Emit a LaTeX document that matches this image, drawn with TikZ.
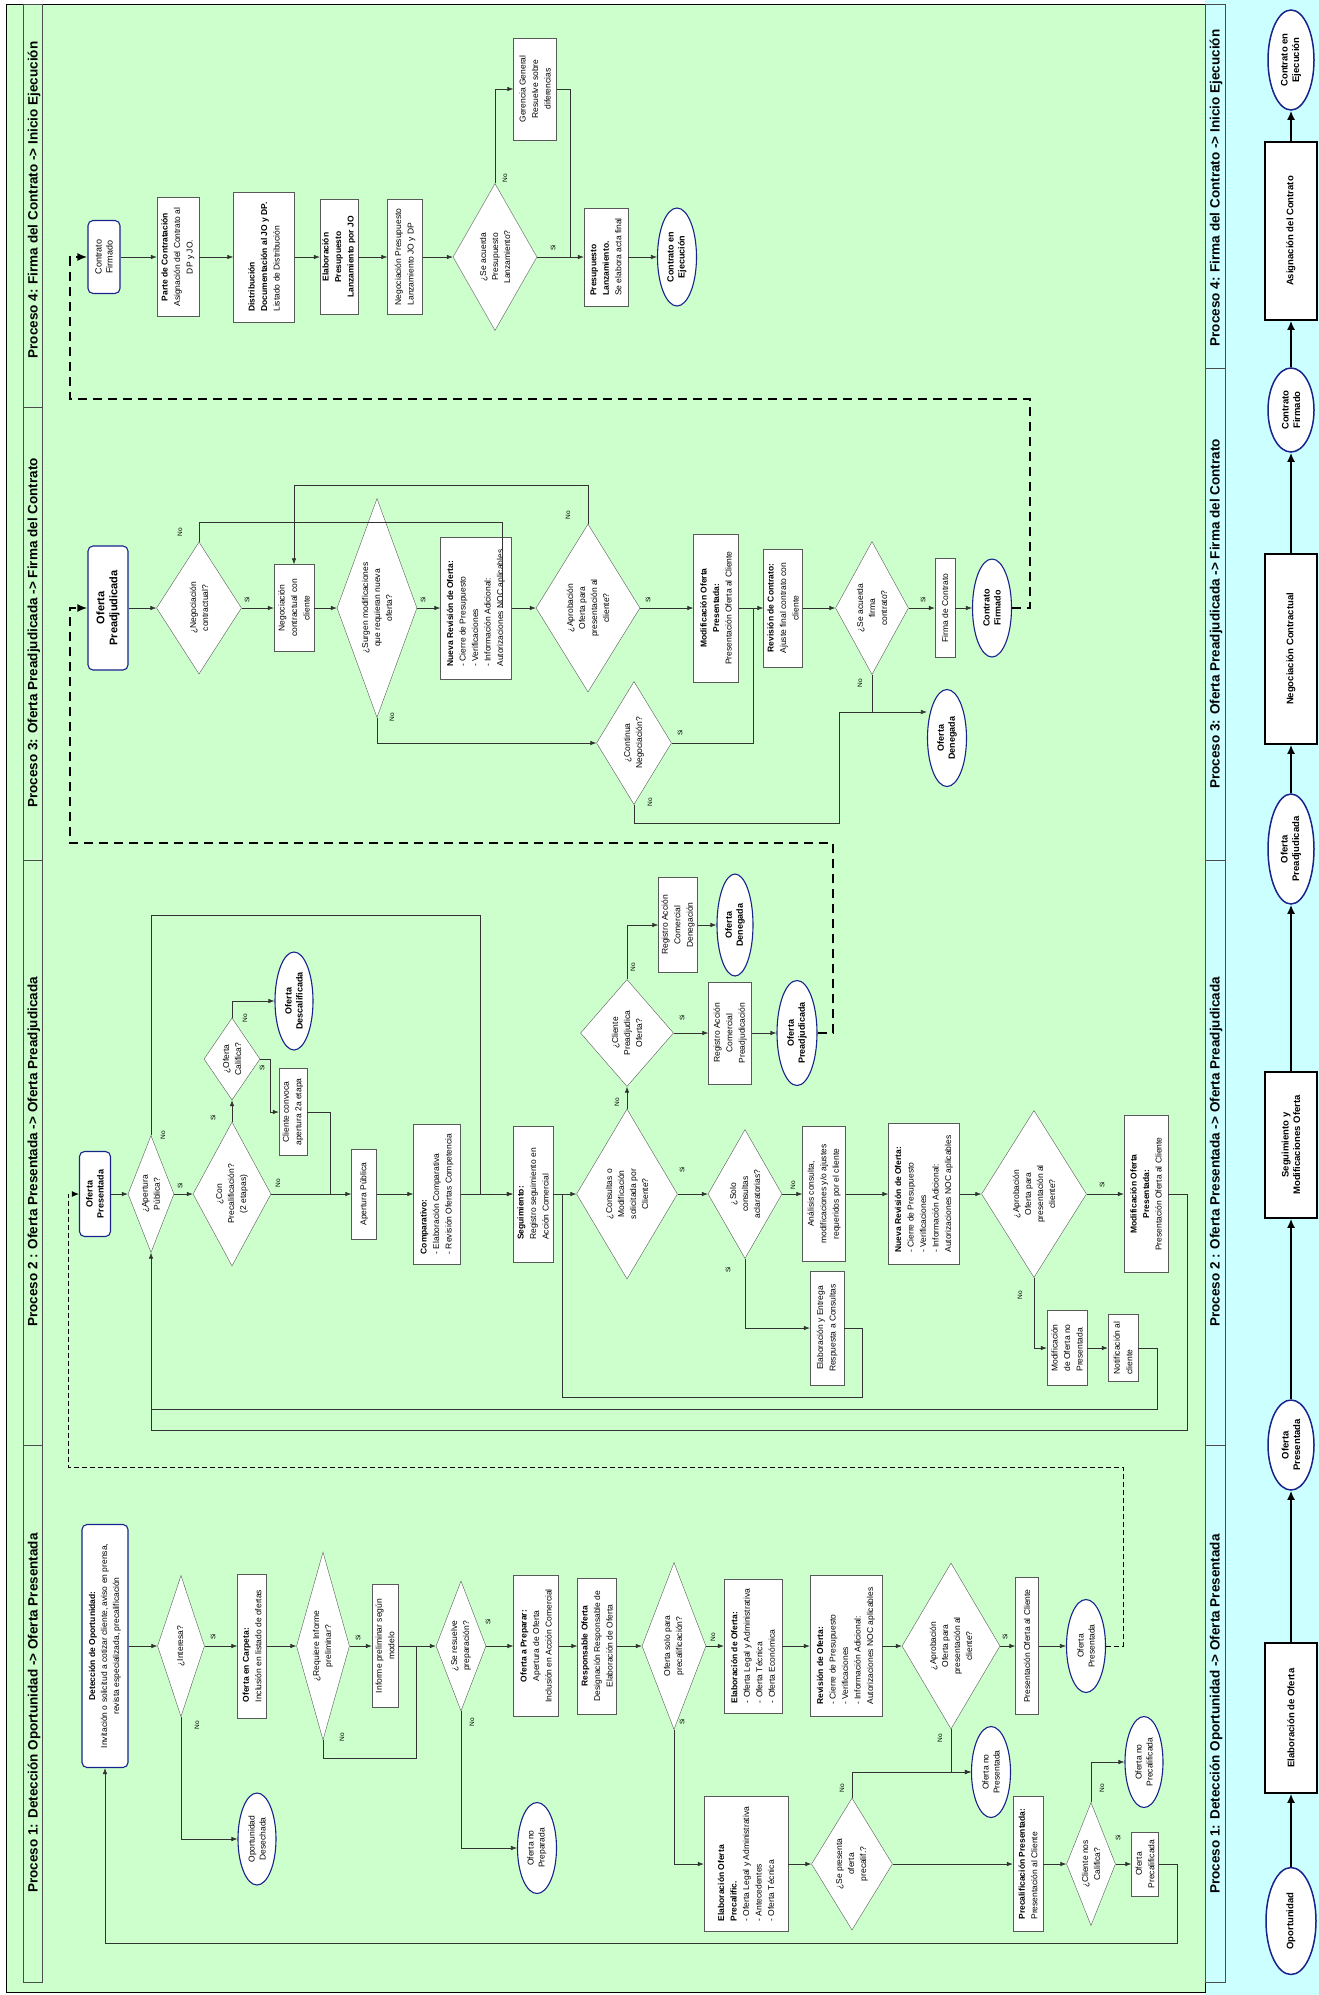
\documentclass[tikz,border=0pt]{standalone}
\usepackage{fontspec}
\setmainfont{Liberation Sans}
\usetikzlibrary{arrows.meta, shapes.geometric}
\definecolor{fondo}{RGB}{204,255,204}
\definecolor{banda}{RGB}{204,255,255}
\definecolor{azul}{RGB}{25,35,140}
\tikzset{
  tam/.style 2 args={minimum width=#1pt, minimum height=#2pt},
  dtam/.style n args={3}{minimum width=#1pt, minimum height=#2pt, aspect=#3}
}

\begin{document}
\begin{tikzpicture}[x=1pt, y=-1pt,
    caja/.style={rectangle, draw=black!65, fill=white, rotate=90, inner sep=2pt,
                 font=\fontsize{8.5}{12.5}\selectfont, align=center},
    izq/.style={align=left},
    dec/.style={diamond, draw=black!65, fill=white, rotate=90, inner sep=0pt,
                font=\fontsize{8.5}{12}\selectfont, align=center},
    ini/.style={rectangle, rounded corners=5pt, draw=azul, line width=1.1pt, fill=white,
                rotate=90, font=\fontsize{9}{11}\selectfont\bfseries, align=center},
    fin/.style={ellipse, draw=azul, line width=1.1pt, fill=white, rotate=90, inner sep=0pt,
                font=\fontsize{8.5}{11}\selectfont, align=center},
    neg/.style={font=\fontsize{9}{11}\selectfont\bfseries},
    lab/.style={rotate=90, font=\fontsize{6.5}{7}\selectfont, inner sep=0pt},
    tit/.style={rotate=90, font=\fontsize{13.5}{15}\selectfont\bfseries, inner sep=0pt},
    lin/.style={draw=black!80, line width=0.6pt},
    arr/.style={lin, -{Latex[length=6pt, width=4.5pt]}},
    trg/.style={draw=black, line width=2pt, dash pattern=on 9pt off 6pt,
                -{Latex[length=10pt, width=8pt]}},
    trf/.style={draw=black, line width=1pt, dash pattern=on 5pt off 3pt,
                -{Latex[length=7pt, width=6pt]}},
    bcaja/.style={rectangle, draw=black, line width=1.5pt, fill=white, rotate=90,
                  font=\fontsize{9.5}{11.5}\selectfont\bfseries, align=center},
    bfin/.style={ellipse, draw=azul, line width=1.5pt, fill=white, rotate=90, inner sep=0pt,
                 font=\fontsize{9.5}{11.5}\selectfont\bfseries, align=center},
    barr/.style={draw=black, line width=1.8pt, -{Latex[length=9pt, width=8pt]}}]

  \useasboundingbox (0,0) rectangle (1319,1995);
  % fondo y columnas de titulos
  \fill[banda] (1205,0) rectangle (1319,1995);
  \draw[fill=fondo, line width=1pt] (6,4) rectangle (1205,1992);
  \draw[fill=fondo, draw=black!70] (23,4) rectangle (42,1982);
  \foreach \y in {407,860,1445} \draw[black!70] (23,\y) -- (42,\y);
  \draw[fill=banda, draw=black!70] (1205,4) rectangle (1225,1982);
  \foreach \y in {368,860,1445} \draw[black!70] (1205,\y) -- (1225,\y);

  \node[tit] (t4) at (34,200) {Proceso 4: Firma del Contrato -> Inicio Ejecución};
  \node[tit] (t3) at (34,633) {Proceso 3: Oferta Preadjudicada -> Firma del Contrato};
  \node[tit] (t2) at (34,1152) {Proceso 2 : Oferta Presentada -> Oferta Preadjudicada};
  \node[tit] (t1) at (34,1713) {Proceso 1: Detección Oportunidad -> Oferta Presentada};
  \node[tit] (u4) at (1216,188) {Proceso 4: Firma del Contrato -> Inicio Ejecución};
  \node[tit] (u3) at (1216,614) {Proceso 3: Oferta Preadjudicada -> Firma del Contrato};
  \node[tit] (u2) at (1216,1152) {Proceso 2 : Oferta Presentada -> Oferta Preadjudicada};
  \node[tit] (u1) at (1216,1714) {Proceso 1: Detección Oportunidad -> Oferta Presentada};

  % resumen
  \node[bfin, tam={107}{50}] (b1) at (1291,1921) {Oportunidad};
  \node[bcaja, tam={150}{52}] (b2) at (1291,1718) {Elaboración de Oferta};
  \node[bfin, tam={90}{46}] (b3) at (1291,1445) {Oferta\\Presentada};
  \node[bcaja, tam={146}{52}] (b4) at (1291,1145) {Seguimiento y\\Modificaciones Oferta};
  \node[bfin, tam={110}{46}] (b5) at (1291,849) {Oferta\\Preadjudicada};
  \node[bcaja, tam={190}{52}] (b6) at (1291,649) {Negociación Contractual};
  \node[bfin, tam={84}{46}] (b7) at (1291,410) {Contrato\\Firmado};
  \node[bcaja, tam={178}{52}] (b8) at (1291,231) {Asignación del Contrato};
  \node[bfin, tam={100}{46}] (b9) at (1291,60) {Contrato en\\Ejecución};
  \foreach \a/\b in {b1/b2,b2/b3,b3/b4,b4/b5,b5/b6,b6/b7,b7/b8,b8/b9}
    \draw[barr] (\a) -- (\b);

  % Proceso 4
  \node[ini, tam={73}{32}, font=\fontsize{9}{11}\selectfont] (cf4) at (104,257) {Contrato\\Firmado};
  \node[caja, tam={119}{42}] (pc) at (178,257) {\textbf{Parte de Contratación}\\Asignación del Contrato al\\DP y JO.};
  \node[caja, izq, tam={130}{61}] (dist) at (264,257) {\textbf{Distribución}\\\textbf{Documentación al JO y DP.}\\Listado de Distribución};
  \node[caja, tam={115}{38}, font=\fontsize{8.5}{12.5}\selectfont\bfseries] (epl) at (339,257) {Elaboración\\Presupuesto\\Lanzamiento por JO};
  \node[caja, izq, tam={115}{35}] (npl) at (405,257) {Negociación Presupuesto\\Lanzamiento JO y DP};
  \node[dec, dtam={147}{84}{1.75}] (dpl) at (495,257) {¿Se acuerda\\Presupuesto\\Lanzamiento?};
  \node[caja, tam={102}{43}] (ger) at (535,89) {Gerencia General\\Resuelve sobre\\diferencias};
  \node[caja, izq, tam={98}{44}] (pl) at (606,257) {\textbf{Presupuesto}\\\textbf{Lanzamiento.}\\Se elabora acta final};
  \node[fin, neg, tam={98}{39}] (ce) at (677,257) {Contrato en\\Ejecución};

  % Proceso 3
  \node[ini, tam={124}{40}, font=\fontsize{11}{13}\selectfont\bfseries] (opa3) at (108,608) {Oferta\\Preadjudicada};
  \node[dec, dtam={132}{85}{1.55}] (dnc) at (199,608) {¿Negociación\\contractual?};
  \node[caja, tam={87}{40}] (ncc) at (294,608) {Negociación\\contractual con\\cliente};
  \node[dec, dtam={219}{80}{2.7}] (dsm) at (377,608) {¿Surgen modificaciones\\que requieran nueva\\oferta?};
  \node[caja, izq, tam={142}{71}] (nro3) at (476,608) {\textbf{Nueva Revisión de Oferta:}\\- Cierre de Presupuesto\\- Verificaciones\\- Información Adicional:\\Autorizaciones NOC aplicables};
  \node[dec, dtam={168}{104}{1.6}] (dap3) at (588,608) {¿Aprobación\\Oferta para\\presentación al\\cliente?};
  \node[caja, tam={148}{45}] (mop3) at (716,608) {\textbf{Modificación Oferta}\\\textbf{Presentada:}\\Presentación Oferta al Cliente};
  \node[caja, tam={118}{39}] (rc) at (783,608) {\textbf{Revisión de Contrato:}\\Ajuste final contrato con\\cliente};
  \node[dec, dtam={133}{73}{1.8}] (dfc) at (872,608) {¿Se acuerda\\firma\\contrato?};
  \node[caja, tam={99}{20}] (fc) at (945,608) {Firma de Contrato};
  \node[fin, neg, tam={98}{39}] (cf3) at (992,608) {Contrato\\Firmado};
  \node[dec, dtam={123}{75}{1.64}] (dcn) at (634,743) {¿Continua\\Negociación?};
  \node[fin, neg, tam={97}{39}] (od3) at (947,738) {Oferta\\Denegada};
  \coordinate (j3) at (839,712);

  % Proceso 2
  \node[ini, tam={85}{31}] (op2) at (95,1194) {Oferta\\Presentada};
  \node[dec, dtam={117}{46}{2.5}] (dapu) at (151,1194) {¿Apertura\\Pública?};
  \node[dec, dtam={144}{78}{1.85}] (dcp) at (232,1194) {¿Con\\Precalificación?\\(2 etapas)};
  \node[dec, dtam={82}{56}{1.46}] (doc) at (232,1059) {¿Oferta\\Califica?};
  \node[fin, neg, tam={98}{38}] (odes) at (294,1001) {Oferta\\Descalificada};
  \node[caja, tam={87}{28}] (ccv) at (293,1112) {Cliente convoca\\apertura 2a etapa};
  \node[caja, tam={90}{25}] (apu) at (364,1194) {Apertura Pública};
  \node[caja, izq, tam={140}{47}] (comp) at (437,1194) {\textbf{Comparativo:}\\- Elaboración Comparativa\\- Revisión Ofertas Competencia};
  \node[caja, izq, tam={136}{40}] (seg) at (533,1194) {\textbf{Seguimiento:}\\Registro seguimiento en\\Acción Comercial};
  \node[dec, dtam={170}{101}{1.68}] (dcm) at (627,1194) {¿Consultas o\\Modificación\\solicitada por\\Cliente?};
  \node[dec, dtam={107}{93}{1.15}] (dcpo) at (627,1033) {¿Cliente\\Preadjudica\\Oferta?};
  \node[caja, tam={102}{43}] (rap) at (730,1033) {Registro Acción\\Comercial\\Preadjudicación};
  \node[fin, neg, tam={105}{40}] (opa2) at (797,1033) {Oferta\\Preadjudicada};
  \node[caja, tam={95}{39}] (rad) at (678,925) {Registro Acción\\Comercial\\Denegación};
  \node[fin, neg, tam={102}{36}] (od2) at (735,925) {Oferta\\Denegada};
  \node[dec, dtam={129}{74}{1.74}] (dsc) at (745,1194) {¿Solo\\consultas\\aclaratorias?};
  \node[caja, tam={135}{43}] (ana) at (824,1194) {Análisis consulta,\\modificaciones y/o ajustes\\requeridos por el cliente};
  \node[caja, tam={114}{34}] (eer) at (827,1328) {Elaboración y Entrega\\Respuesta a Consultas};
  \node[caja, izq, tam={141}{71}] (nro2) at (924,1194) {\textbf{Nueva Revisión de Oferta:}\\- Cierre de Presupuesto\\- Verificaciones\\- Información Adicional:\\Autorizaciones NOC aplicables};
  \node[dec, dtam={167}{105}{1.6}] (dap2) at (1034,1194) {¿Aprobación\\Oferta para\\presentación al\\cliente?};
  \node[caja, tam={157}{44}] (mop2) at (1146,1194) {\textbf{Modificación Oferta}\\\textbf{Presentada:}\\Presentación Oferta al Cliente};
  \node[caja, izq, tam={75}{40}] (monp) at (1067,1348) {Modificación\\de Oferta no\\Presentada};
  \node[caja, izq, tam={67}{30}] (nac) at (1123,1348) {Notificación al\\cliente};

  % Proceso 1
  \node[ini, tam={243}{46}, font=\fontsize{8.5}{12}\selectfont] (det) at (105,1646) {\textbf{Detección de Oportunidad:}\\Invitación o solicitud a cotizar cliente, aviso en prensa,\\revista especializada, precalificación};
  \node[dec, dtam={141}{47}{3}] (dint) at (181,1646) {¿Interesa?};
  \node[caja, izq, tam={144}{29}] (oec) at (252,1646) {\textbf{Oferta en Carpeta:}\\Inclusión en listado de ofertas};
  \node[fin, tam={92}{38}] (odesch) at (257,1839) {Oportunidad\\Desechada};
  \node[dec, dtam={188}{53}{3.5}] (dri) at (323,1646) {¿Requiere Informe\\preliminar?};
  \node[caja, tam={123}{26}] (ipm) at (385,1646) {Informe preliminar según\\modelo};
  \node[dec, dtam={130}{50}{2.6}] (dsr) at (461,1646) {¿Se resuelve\\preparación?};
  \node[caja, tam={141}{45}] (oap) at (536,1646) {\textbf{Oferta a Preparar:}\\Apertura de Oferta\\Inclusión en Acción Comercial};
  \node[fin, tam={91}{39}] (onp) at (537,1848) {Oferta no\\Preparada};
  \node[caja, tam={136}{39}] (rof) at (597,1646) {\textbf{Responsable Oferta}\\Designación Responsable de\\Elaboración de Oferta};
  \node[dec, dtam={167}{64}{2.6}] (dsp) at (674,1646) {Oferta solo para\\precalificación?};
  \node[caja, izq, tam={134}{58}] (eof) at (753,1646) {\textbf{Elaboración de Oferta:}\\- Oferta Legal y Administrativa\\- Oferta Técnica\\- Oferta Económica};
  \node[caja, izq, tam={135}{84}] (eop) at (746,1864) {\textbf{Elaboración Oferta}\\\textbf{Precalific.}\\- Oferta Legal y Administrativa\\- Antecedentes\\- Oferta Técnica};
  \node[caja, izq, tam={141}{72}] (rvo) at (846,1646) {\textbf{Revisión de Oferta:}\\- Cierre de Presupuesto\\- Verificaciones\\- Información Adicional:\\Autorizaciones NOC aplicables};
  \node[dec, dtam={166}{98}{1.7}] (dap1) at (951,1646) {¿Aprobación\\Oferta para\\presentación al\\cliente?};
  \node[caja, tam={137}{23}] (poc) at (1027,1646) {Presentación Oferta al Cliente};
  \node[fin, tam={93}{39}] (op1e) at (1086,1646) {Oferta\\Presentada};
  \node[fin, tam={91}{39}] (onpr) at (991,1772) {Oferta no\\Presentada};
  \node[dec, dtam={132}{81}{1.63}] (dspp) at (852,1864) {¿Se presenta\\oferta\\precalif.?};
  \node[caja, izq, tam={135}{30}] (ppr) at (1028,1864) {\textbf{Precalificación Presentada:}\\Presentación al Cliente};
  \node[dec, dtam={123}{49}{2.5}] (dcnc) at (1091,1864) {¿Cliente nos\\Califica?};
  \node[caja, tam={64}{27}] (opc) at (1145,1864) {Oferta\\Precalificada};
  \node[fin, tam={91}{38}] (onpc) at (1144,1762) {Oferta no\\Precalificada};

  % conectores Proceso 4
  \foreach \a/\b in {cf4/pc,pc/dist,dist/epl,epl/npl,npl/dpl,dpl/pl,pl/ce}
    \draw[arr] (\a) -- (\b);
  \draw[arr] (dpl.east) |- (ger);
  \draw[lin] (ger) -| (570,257);

  % conectores Proceso 3
  \foreach \a/\b in {opa3/dnc,dnc/ncc,ncc/dsm,dsm/nro3,nro3/dap3,dap3/mop3,mop3/rc,rc/dfc,dfc/fc,fc/cf3}
    \draw[arr] (\a) -- (\b);
  \draw[lin] (dnc.east) |- (502,522) -- (502,608);
  \draw[arr] (dap3.east) -- (588,485) -| (ncc);
  \draw[arr] (dsm.west) |- (dcn);
  \draw[lin] (dcn.south) -| (753,608);
  \draw[arr] (dcn.west) |- (839,823) -- (j3) -- (od3.north |- j3);
  \draw[lin] (dfc.west) -- (dfc.west |- j3);

  % conectores Proceso 2
  \foreach \a/\b in {op2/dapu,dapu/dcp,dcp/doc,dcp/apu,apu/comp,comp/seg,seg/dcm,dcm/dcpo,dcpo/rap,rap/opa2,rad/od2,dcm/dsc,dsc/ana,ana/nro2,nro2/dap2,dap2/mop2,monp/nac}
    \draw[arr] (\a) -- (\b);
  \draw[arr] (doc.east) |- (odes);
  \draw[arr] (doc.south) -- (270,1059) |- (ccv);
  \draw[lin] (ccv) -| (330,1194);
  \draw[arr] (dapu.east) |- (480,915) |- (seg);
  \draw[arr] (dcpo.east) |- (rad);
  \draw[arr] (dsc.west) |- (eer);
  \draw[arr] (dap2.west) |- (monp);
  \draw[lin] (eer) -| (862,1397) -| (562,1194);
  \draw[arr] (nac) -| (1157,1409) -| (dapu.west);
  \draw[lin] (mop2) -| (1187,1430) -| (151,1409);

  % conectores Proceso 1
  \foreach \a/\b in {det/dint,dint/oec,oec/dri,dri/ipm,ipm/dsr,dsr/oap,oap/rof,rof/dsp,dsp/eof,eof/rvo,rvo/dap1,dap1/poc,poc/op1e,eop/dspp,dspp/ppr,ppr/dcnc,dcnc/opc}
    \draw[arr] (\a) -- (\b);
  \draw[arr] (dint.west) |- (odesch);
  \draw[lin] (dri.west) |- (416,1758) -- (416,1646);
  \draw[arr] (dsr.west) |- (onp);
  \draw[arr] (dsp.west) |- (eop);
  \draw[arr] (dap1.west) |- (onpr);
  \draw[arr] (dspp.east) |- (onpr);
  \draw[arr] (dcnc.east) |- (onpc);
  \draw[arr] (opc) -| (1177,1943) -| (det.west);

  % enlaces entre procesos
  \draw[trf] (op1e) -- (1123,1646) |- (68,1467) |- (op2);
  \draw[trg] (opa2) -- (833,1033) |- (70,843) |- (opa3);
  \draw[trg] (cf3) -- (1030,608) |- (70,399) |- (cf4);

  % etiquetas Si / No
  \node[lab] (l01) at (505,178) {No};
  \node[lab] (l02) at (553,248) {Si};
  \node[lab] (l03) at (180,532) {No};
  \node[lab] (l04) at (247,600) {Si};
  \node[lab] (l05) at (423,600) {Si};
  \node[lab] (l06) at (392,717) {No};
  \node[lab] (l07) at (568,515) {No};
  \node[lab] (l08) at (648,600) {Si};
  \node[lab] (l09) at (680,733) {Si};
  \node[lab] (l10) at (650,802) {No};
  \node[lab] (l11) at (860,683) {No};
  \node[lab] (l12) at (923,600) {Si};
  \node[lab] (l13) at (180,1186) {Si};
  \node[lab] (l14) at (163,1135) {No};
  \node[lab] (l15) at (213,1118) {Si};
  \node[lab] (l16) at (278,1183) {No};
  \node[lab] (l17) at (245,1018) {No};
  \node[lab] (l18) at (262,1068) {Si};
  \node[lab] (l19) at (617,1102) {No};
  \node[lab] (l20) at (682,1170) {Si};
  \node[lab] (l21) at (682,1018) {Si};
  \node[lab] (l22) at (633,967) {No};
  \node[lab] (l23) at (793,1185) {No};
  \node[lab] (l24) at (728,1270) {Si};
  \node[lab] (l25) at (1102,1185) {Si};
  \node[lab] (l26) at (1020,1295) {No};
  \node[lab] (l27) at (213,1637) {Si};
  \node[lab] (l28) at (197,1725) {No};
  \node[lab] (l29) at (358,1638) {Si};
  \node[lab] (l30) at (342,1737) {No};
  \node[lab] (l31) at (488,1622) {Si};
  \node[lab] (l32) at (472,1722) {No};
  \node[lab] (l33) at (713,1637) {No};
  \node[lab] (l34) at (682,1722) {Si};
  \node[lab] (l35) at (1005,1637) {Si};
  \node[lab] (l36) at (940,1738) {No};
  \node[lab] (l37) at (842,1788) {No};
  \node[lab] (l38) at (1118,1838) {Si};
  \node[lab] (l39) at (1102,1788) {No};
\end{tikzpicture}
\end{document}
